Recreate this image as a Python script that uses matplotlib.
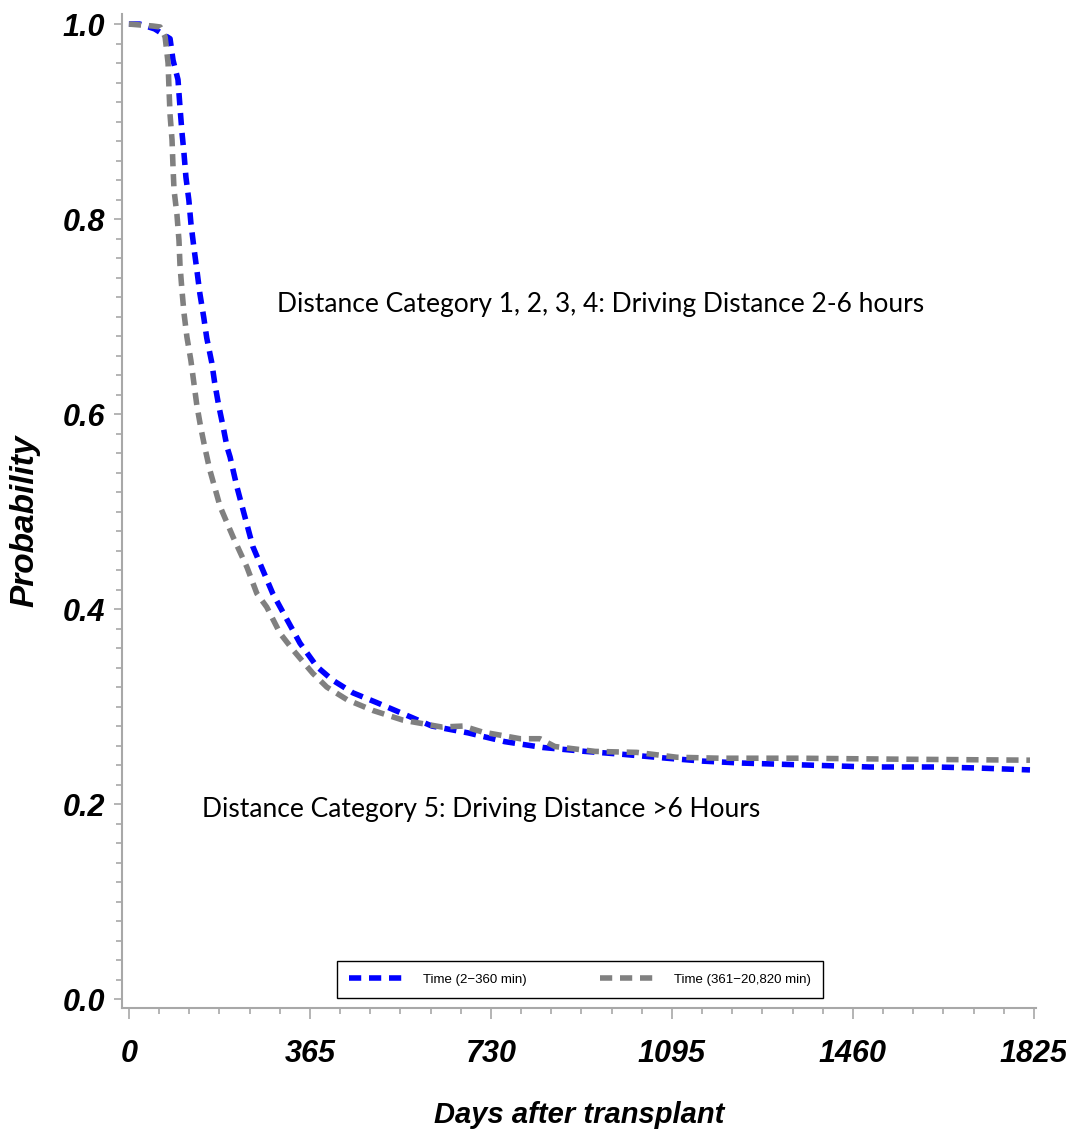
import numpy as np
import matplotlib.pyplot as plt
from matplotlib.ticker import MultipleLocator, FixedLocator

# curves (days, probability)
days_short = [0, 22, 52, 83, 89, 99, 103, 107, 111, 115, 121, 125, 131, 137, 143, 151,
              157, 167, 173, 181, 190, 198, 204, 218, 230, 250, 270, 290, 319, 345,
              379, 411, 452, 500, 551, 611, 684, 758, 835, 920, 996, 1085, 1158,
              1238, 1367, 1494, 1625, 1710, 1817]
prob_short = [1.0, 1.0, 0.995, 0.985, 0.963, 0.943, 0.915, 0.889, 0.868, 0.843, 0.819,
              0.796, 0.771, 0.748, 0.724, 0.699, 0.678, 0.653, 0.632, 0.609, 0.587,
              0.566, 0.556, 0.525, 0.502, 0.464, 0.440, 0.416, 0.389, 0.365, 0.341,
              0.327, 0.314, 0.304, 0.293, 0.280, 0.273, 0.264, 0.258, 0.254, 0.251,
              0.247, 0.244, 0.242, 0.240, 0.238, 0.238, 0.237, 0.235]

days_long = [0, 48, 63, 73, 79, 81, 83, 87, 89, 91, 97, 101, 103, 107, 111, 117, 125,
             131, 137, 145, 153, 163, 184, 210, 238, 258, 278, 305, 331, 371, 399,
             440, 492, 553, 631, 674, 712, 789, 829, 859, 940, 1024, 1105, 1192,
             1353, 1555, 1817]
prob_long = [1.0, 0.998, 0.997, 0.987, 0.960, 0.932, 0.907, 0.881, 0.853, 0.830, 0.804,
             0.778, 0.753, 0.727, 0.704, 0.679, 0.655, 0.632, 0.609, 0.586, 0.566,
             0.543, 0.505, 0.474, 0.443, 0.416, 0.402, 0.375, 0.358, 0.334, 0.320,
             0.307, 0.296, 0.286, 0.279, 0.280, 0.274, 0.267, 0.267, 0.259, 0.254,
             0.253, 0.248, 0.247, 0.247, 0.246, 0.245]

x_ticks = [0, 365, 730, 1095, 1460, 1825]
y_ticks = [0.0, 0.2, 0.4, 0.6, 0.8, 1.0]
label_short = 'Time (2\u2212360 min)'
label_long = 'Time (361\u221220,820 min)'

tick_font = dict(family=['Liberation Sans', 'DejaVu Sans'], weight='bold', style='italic')

fig = plt.figure(figsize=(10.66, 11.39), dpi=100)
ax = fig.add_axes([0.1144, 0.1150, 0.8574, 0.8727])

ax.plot(days_short, prob_short, color='#0000ff', lw=4, dashes=(2.2, 1.4), label=label_short)
ax.plot(days_long, prob_long, color='#808080', lw=4, dashes=(2.2, 1.4), label=label_long)

ax.set_xlim(-14, 1829)
ax.set_ylim(-0.0092, 1.0103)

ax.set_xticks(x_ticks)
ax.set_yticks(y_ticks)
ax.xaxis.set_minor_locator(FixedLocator(np.arange(0, 1826, 365 / 6)))
ax.yaxis.set_minor_locator(MultipleLocator(0.02))
ax.set_xticklabels([str(v) for v in x_ticks], fontsize=22, **tick_font)
ax.set_yticklabels(['%.1f' % v for v in y_ticks], fontsize=22, **tick_font)

for s in ['top', 'right']:
    ax.spines[s].set_visible(False)
for s in ['left', 'bottom']:
    ax.spines[s].set_color('#a8a8a8')
    ax.spines[s].set_linewidth(1.5)
ax.tick_params(which='both', color='#a8a8a8', width=1.2)
ax.tick_params(axis='y', which='major', length=6, pad=6)
ax.tick_params(axis='y', which='minor', length=4)
ax.tick_params(axis='x', which='major', length=8, pad=14)
ax.tick_params(axis='x', which='minor', length=4)

ax.set_xlabel('Days after transplant', fontsize=21, **tick_font)
ax.set_ylabel('Probability', fontsize=24, **tick_font)
ax.xaxis.set_label_coords(0.5, -0.108)
ax.yaxis.set_label_coords(-0.106, 0.49)
ax.xaxis.label.set_va('center')
ax.yaxis.label.set_va('center')

ax.text(298, 0.712, 'Distance Category 1, 2, 3, 4: Driving Distance 2-6 hours',
        fontsize=19, family='Lato', va='center', ha='left')
ax.text(147, 0.194, 'Distance Category 5: Driving Distance >6 Hours',
        fontsize=19, family='Lato', va='center', ha='left')

leg = ax.legend(loc='lower left', bbox_to_anchor=(0.235, 0.010, 0.532, 0.038),
                mode='expand', ncol=2, handlelength=4.2, handletextpad=1.4,
                borderpad=0.95, borderaxespad=0, frameon=True, fancybox=False,
                edgecolor='black', framealpha=1,
                prop=dict(family='Liberation Sans', size=9.5))
leg.get_frame().set_linewidth(1.0)

fig.savefig('out.png', dpi=100)
